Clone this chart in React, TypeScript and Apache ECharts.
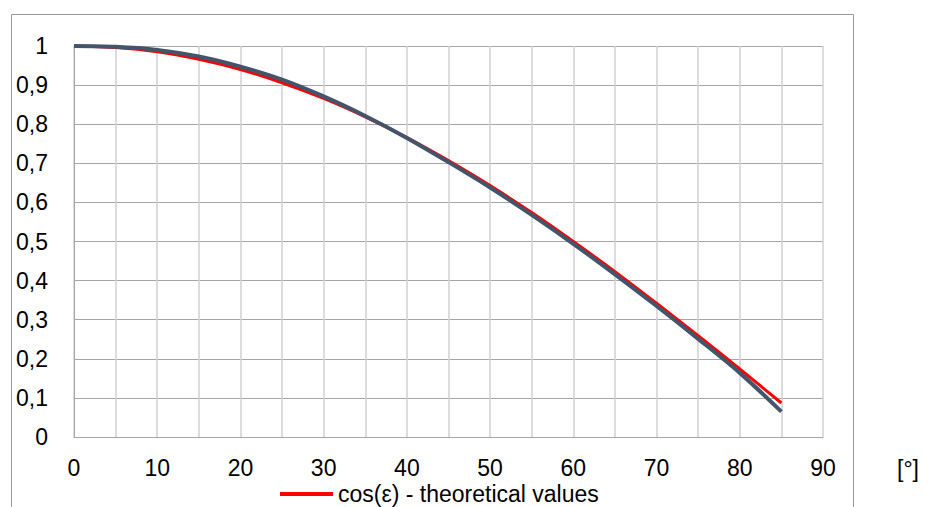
import React, { useEffect, useRef } from "react";
import * as echarts from "echarts";

const angles = [0, 5, 10, 15, 20, 25, 30, 35, 40, 45, 50, 55, 60, 65, 70, 75, 80, 85];
const theoretical = [1.0, 0.996, 0.985, 0.966, 0.94, 0.906, 0.866, 0.819, 0.766, 0.707, 0.643, 0.574, 0.5, 0.423, 0.342, 0.259, 0.174, 0.087];
const measured = [1.0, 0.998, 0.99, 0.973, 0.947, 0.914, 0.871, 0.821, 0.765, 0.703, 0.638, 0.568, 0.494, 0.416, 0.335, 0.251, 0.164, 0.065];
const theoreticalName = "cos(ε) - theoretical values";
const measuredName = "cos(ε) - measured values";
const unitLabel = "[°]";

const FONT = "'Liberation Sans', Arial, sans-serif";

export default function App() {
  const ref = useRef<HTMLDivElement>(null);
  useEffect(() => {
    if (!ref.current) return;
    const chart = echarts.init(ref.current, undefined, { renderer: "svg" });
    chart.setOption({
      animation: false,
      backgroundColor: "#ffffff",
      textStyle: { fontFamily: FONT },
      grid: { left: 74, top: 46, right: 107, bottom: 70 },
      xAxis: {
        type: "value",
        min: 0,
        max: 90,
        interval: 5,
        axisLine: { show: true, lineStyle: { color: "#a6a6a6", width: 1 } },
        axisTick: { show: false },
        axisLabel: {
          fontSize: 23,
          lineHeight: 24,
          color: "#000",
          fontFamily: FONT,
          margin: 19,
          formatter: (v: number) => (v % 10 === 0 ? String(v) : ""),
        },
        splitLine: { show: true, lineStyle: { color: "#d0d0d0", width: 1.5 } },
      },
      yAxis: {
        type: "value",
        min: 0,
        max: 1,
        interval: 0.1,
        axisLine: { show: true, lineStyle: { color: "#a6a6a6", width: 1 } },
        axisTick: { show: false },
        axisLabel: {
          fontSize: 23,
          color: "#000",
          fontFamily: FONT,
          margin: 26,
          formatter: (v: number) => Number(v.toFixed(1)).toString().replace(".", ","),
        },
        splitLine: { show: true, lineStyle: { color: "#a6a6a6", width: 1 } },
      },
      legend: {
        data: [theoreticalName],
        left: 280,
        top: 482,
        icon: "rect",
        itemWidth: 53,
        itemHeight: 4,
        itemGap: 10,
        padding: 0,
        textStyle: { fontSize: 23, color: "#000", fontFamily: FONT, lineHeight: 24 },
      },
      series: [
        {
          name: theoreticalName,
          type: "line",
          data: angles.map((a, i) => [a, theoretical[i]]),
          smooth: 0.3,
          showSymbol: false,
          symbol: "none",
          lineStyle: { color: "#ff0000", width: 3 },
          itemStyle: { color: "#ff0000" },
        },
        {
          name: measuredName,
          type: "line",
          data: angles.map((a, i) => [a, measured[i]]),
          smooth: 0.3,
          showSymbol: false,
          symbol: "none",
          lineStyle: { color: "#44546a", width: 4 },
          itemStyle: { color: "#44546a" },
        },
      ],
      graphic: [
        {
          type: "polyline",
          shape: { points: [[11.5, 520], [11.5, 14.5], [853.5, 14.5], [853.5, 520]] },
          style: { stroke: "#999999", lineWidth: 1, fill: "none" },
          silent: true,
        },
        {
          type: "text",
          left: 897,
          top: 457,
          style: { text: unitLabel, fontSize: 23, fill: "#000", fontFamily: FONT },
        },
      ],
    });
    return () => chart.dispose();
  }, []);
  return (
    <div
      ref={ref}
      style={{ position: "fixed", left: 0, top: 0, width: 930, height: 507, background: "#fff" }}
    />
  );
}
